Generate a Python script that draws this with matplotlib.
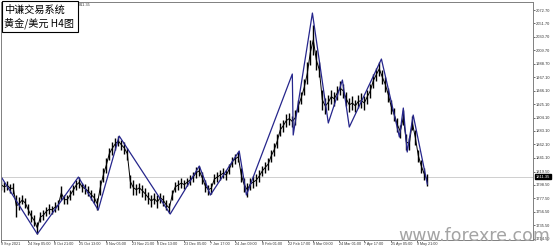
"""
XAUUSD H4 chart with zigzag overlay (MT4-style screenshot recreation).
"""

import matplotlib
matplotlib.use("Agg")
import matplotlib.pyplot as plt
from matplotlib.patches import Rectangle

# ---- data (one bar every ~3 px) ----
highs = [1806, 1803, 1805, 1800, 1802, 1783, 1780, 1782, 1778, 1768,
         1759, 1751, 1740, 1756, 1759, 1764, 1768, 1766, 1772, 1775,
         1797, 1783, 1782, 1791, 1798, 1806, 1811, 1802, 1800, 1797,
         1791, 1786, 1778, 1806, 1825, 1841, 1857, 1866, 1872, 1875,
         1869, 1866, 1857, 1814, 1806, 1800, 1802, 1799, 1794, 1788,
         1783, 1786, 1782, 1786, 1783, 1775, 1771, 1791, 1803, 1806,
         1809, 1806, 1809, 1814, 1819, 1827, 1829, 1819, 1806, 1799,
         1802, 1815, 1819, 1822, 1825, 1822, 1832, 1843, 1847, 1850,
         1825, 1809, 1802, 1809, 1812, 1815, 1822, 1829, 1835, 1841,
         1854, 1864, 1878, 1895, 1901, 1909, 1912, 1907, 1916, 1932,
         1945, 1964, 1991, 2025, 2050, 2010, 1991, 1948, 1935, 1940,
         1948, 1945, 1954, 1961, 1957, 1945, 1935, 1938, 1932, 1940,
         1942, 1938, 1948, 1957, 1973, 1982, 1991, 1979, 1967, 1951,
         1932, 1919, 1904, 1893, 1916, 1878, 1872, 1907, 1885, 1854,
         1838, 1825, 1815]
lows = [1791, 1788, 1791, 1786, 1785, 1748, 1759, 1768, 1762, 1751,
        1740, 1734, 1722, 1740, 1743, 1750, 1753, 1753, 1756, 1759,
        1775, 1768, 1769, 1775, 1783, 1791, 1794, 1788, 1785, 1781,
        1775, 1771, 1759, 1783, 1803, 1818, 1838, 1846, 1854, 1860,
        1854, 1847, 1838, 1794, 1783, 1782, 1786, 1780, 1775, 1769,
        1764, 1768, 1762, 1771, 1766, 1759, 1754, 1775, 1788, 1791,
        1794, 1792, 1797, 1799, 1803, 1809, 1812, 1800, 1788, 1783,
        1785, 1800, 1803, 1806, 1809, 1806, 1815, 1827, 1832, 1835,
        1803, 1788, 1780, 1791, 1794, 1797, 1803, 1812, 1817, 1822,
        1835, 1844, 1857, 1875, 1882, 1890, 1893, 1889, 1892, 1913,
        1926, 1940, 1956, 1987, 2002, 1979, 1967, 1916, 1909, 1916,
        1926, 1922, 1932, 1939, 1935, 1922, 1913, 1916, 1913, 1919,
        1919, 1916, 1926, 1935, 1951, 1961, 1970, 1956, 1945, 1929,
        1910, 1898, 1882, 1872, 1893, 1854, 1854, 1885, 1861, 1835,
        1818, 1806, 1797]

# zigzag pivots: (bar index, price)
zz_idx = [0, 12, 25.7, 32.3, 39.3, 56.3, 66, 69.7, 79.3, 81.7,
          97, 97.3, 103.7, 109, 113.7, 116, 126.7, 132.7, 134, 135.3,
          137.3, 142]
zz_price = [1810.9, 1721.6, 1810.9, 1759.2, 1875.2, 1752.9, 1828.2, 1782.7,
            1851.7, 1782.7, 1972.4, 1876.8, 2068.0, 1895.6, 1963.0, 1889.3,
            1995.9, 1873.6, 1919.1, 1850.1, 1908.1, 1799.9]

last_price = 1811.35

y_ticks = [2072.70, 2051.70, 2030.70, 2009.70, 1988.70, 1967.10, 1946.10,
           1925.10, 1904.10, 1883.10, 1862.10, 1841.10, 1819.50, 1798.50,
           1777.50, 1756.50, 1735.50, 1714.50]

x_tick_idx = [0, 9, 17.5, 26, 35, 43.5, 52, 61, 69.5, 78, 87, 95.5, 104,
              112.5, 121, 130, 138.5]
x_tick_labels = ["9 Sep 2021", "24 Sep 05:00", "8 Oct 21:00", "25 Oct 13:00",
                 "9 Nov 05:00", "23 Nov 21:00", "8 Dec 13:00", "23 Dec 05:00",
                 "7 Jan 17:00", "24 Jan 09:00", "8 Feb 01:00", "22 Feb 17:00",
                 "9 Mar 09:00", "24 Mar 01:00", "7 Apr 17:00", "25 Apr 05:00",
                 "9 May 21:00"]


def main():
    W, H = 553, 249
    fig = plt.figure(figsize=(W / 100, H / 100), dpi=100)
    ax = fig.add_axes([1 / W, 1 - 239.5 / H, 532 / W, 237.5 / H])

    bars = list(range(len(highs)))
    mids = [(h + l) / 2 for h, l in zip(highs, lows)]
    ax.vlines(bars, lows, highs, color="black", lw=1.0)
    ax.plot(bars, mids, color="black", lw=0.7)
    ax.plot(zz_idx, zz_price, color="#26268c", lw=0.9)
    ax.axhline(last_price, color="#c8c8c8", lw=0.6, zorder=0)

    ax.set_xlim(-0.1, 177.23)
    ax.set_ylim(1713.0, 2085.3)

    ax.yaxis.tick_right()
    ax.set_yticks(y_ticks)
    ax.set_yticklabels([f"{v:.2f}" for v in y_ticks], family="Liberation Sans")
    ax.set_xticks(x_tick_idx)
    ax.set_xticklabels(x_tick_labels, ha="left", family="Liberation Sans")
    ax.tick_params(axis="y", labelsize=2.9, length=1.5, width=0.5, pad=0.8,
                   colors="#333333")
    ax.tick_params(axis="x", labelsize=2.7, length=1.5, width=0.5, pad=0.5,
                   colors="#333333")
    for s in ax.spines.values():
        s.set_color("#808080")
        s.set_linewidth(0.7)

    # current price marker on the price scale
    ax.annotate(f"{last_price:.2f}", xy=(1.0, last_price),
                xycoords=("axes fraction", "data"), xytext=(2.0, 0),
                textcoords="offset points", va="center", ha="left",
                fontsize=2.9, color="white", family="Liberation Sans",
                bbox=dict(boxstyle="square,pad=0.15", fc="black", ec="black"))

    # header price (partly hidden by the title box)
    fig.text(79 / W, 1 - 4.5 / H, "811.35", fontsize=2.8, color="#333333",
             va="center", ha="left", family="Liberation Sans")

    # title box
    box = Rectangle((2 / W, 1 - 32 / H), 76 / W, 31 / H, transform=fig.transFigure,
                    fc="white", ec="black", lw=0.8, zorder=5)
    fig.patches.append(box)
    cjk = ["Noto Sans CJK SC", "DejaVu Sans"]
    fig.text(4 / W, 1 - 9.5 / H, "中谦交易系统", family=cjk, fontsize=7.3,
             va="center", ha="left", zorder=6)
    fig.text(4 / W, 1 - 23.5 / H, "黄金/美元 H4图", family=cjk, fontsize=7.3,
             va="center", ha="left", zorder=6)

    # watermark
    fig.text(398 / W, 1 - 241 / H, "www.forexre.com", fontsize=12.5,
             color="#a4a4a4", va="baseline", ha="left")

    fig.savefig("out.png", dpi=100)
    plt.close(fig)


if __name__ == "__main__":
    main()
